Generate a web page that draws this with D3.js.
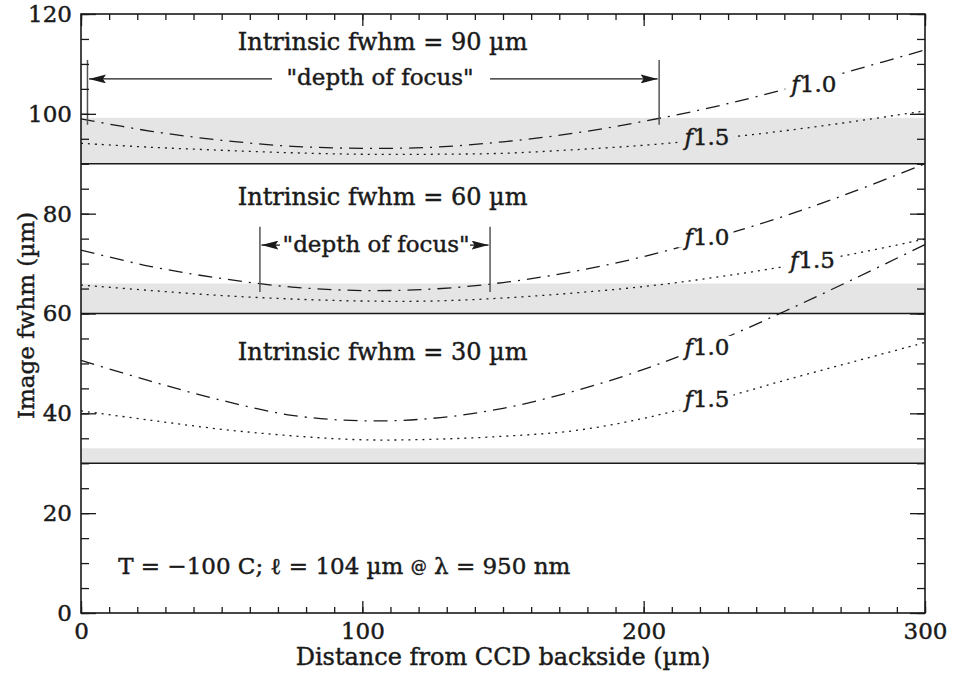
<!DOCTYPE html>
<html>
<head>
<meta charset="utf-8">
<script src="https://cdn.jsdelivr.net/npm/d3@7"></script>
<style>
    body { margin: 0; background: #fff; }
    svg text { font-family: "DejaVu Serif", serif; fill: #1a1a1a; stroke: #1a1a1a; stroke-width: 0.45px; }
</style>
</head>
<body>
<svg id="chart" width="953" height="679"></svg>
<script>
var distance = [0, 25, 50, 75, 100, 125, 150, 175, 200, 225, 250, 275, 300];

// intrinsic fwhm of each group and the top of its grey band (+10%)
var intrinsic = [90, 60, 30];
var bandTop = [99.2, 66, 33];

// image fwhm (um), f/1.0 and f/1.5 beams
var f10_90 = [99.0, 96.5, 94.7, 93.5, 93.1, 93.3, 94.4, 96.1, 98.5, 101.4, 104.9, 108.8, 112.8];
var f15_90 = [94.1, 93.3, 92.7, 92.2, 91.9, 91.9, 92.1, 92.8, 93.7, 95.0, 96.6, 98.5, 100.6];
var f10_60 = [72.7, 69.4, 67.0, 65.3, 64.6, 64.9, 66.2, 68.4, 71.4, 75.2, 79.5, 84.5, 90.0];
var f15_60 = [65.7, 64.6, 63.6, 62.9, 62.5, 62.5, 63.1, 64.1, 65.4, 67.2, 69.4, 72.0, 74.9];
var f10_30 = [50.6, 46.4, 42.6, 39.6, 38.5, 39.0, 41.0, 44.4, 48.8, 54.2, 60.4, 67.0, 73.8];
var f15_30 = [40.5, 38.6, 36.8, 35.5, 34.7, 34.8, 35.4, 36.5, 39.0, 42.6, 46.6, 50.4, 54.2];

var xTickLabels = [0, 100, 200, 300];
var yTickLabels = [0, 20, 40, 60, 80, 100, 120];

var MARGIN = {top: 14, right: 28, bottom: 66, left: 81};
var WIDTH = 953 - MARGIN.left - MARGIN.right;
var HEIGHT = 679 - MARGIN.top - MARGIN.bottom;
var INK = "#1a1a1a";

var series = [
    {values: f10_90, dash: "14,7,2,7", label: "1.0", lx: 260.5, ly: 104.4},
    {values: f15_90, dash: "2,5",      label: "1.5", lx: 222.5, ly: 93.8},
    {values: f10_60, dash: "14,7,2,7", label: "1.0", lx: 222.5, ly: 73.8},
    {values: f15_60, dash: "2,5",      label: "1.5", lx: 260.0, ly: 69.1},
    {values: f10_30, dash: "14,7,2,7", label: "1.0", lx: 222.5, ly: 51.7},
    {values: f15_30, dash: "2,5",      label: "1.5", lx: 222.5, ly: 41.3}
];

// where f/1.0 stays inside the band
var focus = [
    {lo: 2.3, hi: 205.5, top: 110.8, bottom: 97.8, arrowY: 107.0, tailL: 67.9, tailR: 145.4,
     tx: 106.3, ty: 105.7},
    {lo: 63.6, hi: 145.4, top: 77.4, bottom: 64.3, arrowY: 73.7, tailL: 70.7, tailR: 138.3,
     tx: 104.9, ty: 72.4}
];
var titleY = [112.8, 81.8, 50.7];

var svg = d3.select("#chart");
var defs = svg.append("defs");
var g = svg.append("g").attr("transform", "translate(" + MARGIN.left + "," + MARGIN.top + ")");

var x = d3.scaleLinear().domain([0, 300]).range([0, WIDTH]);
var y = d3.scaleLinear().domain([0, 120]).range([HEIGHT, 0]);

defs.append("marker")
    .attr("id", "head")
    .attr("viewBox", "0 0 17 9")
    .attr("refX", 17).attr("refY", 4.5)
    .attr("markerUnits", "userSpaceOnUse")
    .attr("markerWidth", 17).attr("markerHeight", 9)
    .attr("orient", "auto")
    .append("path").attr("d", "M0,0L17,4.5L0,9L3,4.5Z").attr("fill", INK);

var mask = defs.append("mask").attr("id", "labelMask").attr("maskUnits", "userSpaceOnUse");
mask.append("rect").attr("x", -10).attr("y", -10)
    .attr("width", WIDTH + 20).attr("height", HEIGHT + 20).attr("fill", "#fff");

drawBands();
drawCurves();
drawFocus();
drawTexts();
drawAxes();

function drawBands() {
    g.selectAll("rect.band")
        .data(intrinsic)
        .enter().append("rect")
        .attr("class", "band")
        .attr("x", 0)
        .attr("width", WIDTH)
        .attr("y", function (d, i) { return y(bandTop[i]); })
        .attr("height", function (d, i) { return y(d) - y(bandTop[i]); })
        .attr("fill", "#e5e5e5");

    g.selectAll("line.base")
        .data(intrinsic)
        .enter().append("line")
        .attr("class", "base")
        .attr("x1", 0).attr("x2", WIDTH)
        .attr("y1", function (d) { return y(d); })
        .attr("y2", function (d) { return y(d); })
        .attr("stroke", INK).attr("stroke-width", 1.6);
}

function drawCurves() {
    var line = d3.line()
        .x(function (d, i) { return x(distance[i]); })
        .y(function (d) { return y(d); })
        .curve(d3.curveCatmullRom.alpha(0.5));

    g.append("g")
        .attr("mask", "url(#labelMask)")
        .selectAll("path")
        .data(series)
        .enter().append("path")
        .attr("d", function (d) { return line(d.values); })
        .attr("fill", "none")
        .attr("stroke", INK)
        .attr("stroke-width", 1.3)
        .attr("stroke-dasharray", function (d) { return d.dash; });
}

function drawFocus() {
    focus.forEach(function (f) {
        [f.lo, f.hi].forEach(function (v) {
            g.append("line")
                .attr("x1", x(v)).attr("x2", x(v))
                .attr("y1", y(f.top)).attr("y2", y(f.bottom))
                .attr("stroke", "#555").attr("stroke-width", 1.5);
        });
        g.append("line")
            .attr("x1", x(f.tailL)).attr("x2", x(f.lo) + 1.5)
            .attr("y1", y(f.arrowY)).attr("y2", y(f.arrowY))
            .attr("stroke", INK).attr("stroke-width", 1.3)
            .attr("marker-end", "url(#head)");
        g.append("line")
            .attr("x1", x(f.tailR)).attr("x2", x(f.hi) - 1.5)
            .attr("y1", y(f.arrowY)).attr("y2", y(f.arrowY))
            .attr("stroke", INK).attr("stroke-width", 1.3)
            .attr("marker-end", "url(#head)");
        g.append("text")
            .attr("x", x(f.tx)).attr("y", y(f.ty))
            .attr("text-anchor", "middle")
            .attr("font-size", 23)
            .text("\"depth of focus\"");
    });
}

function drawTexts() {
    g.selectAll("text.title")
        .data(intrinsic)
        .enter().append("text")
        .attr("class", "title")
        .attr("x", x(107.2))
        .attr("y", function (d, i) { return y(titleY[i]); })
        .attr("text-anchor", "middle")
        .attr("font-size", 24)
        .text(function (d) { return "Intrinsic fwhm = " + d + " \u00b5m"; });

    var labels = g.selectAll("text.flabel")
        .data(series)
        .enter().append("text")
        .attr("class", "flabel")
        .attr("x", function (d) { return x(d.lx); })
        .attr("y", function (d) { return y(d.ly); })
        .attr("text-anchor", "middle")
        .attr("font-size", 23);
    labels.append("tspan").attr("font-style", "italic").text("f");
    labels.append("tspan").text(function (d) { return d.label; });

    // knock the curves out behind each label
    labels.each(function () {
        var b = this.getBBox();
        mask.append("rect")
            .attr("x", b.x - 4).attr("y", b.y + 2)
            .attr("width", b.width + 8).attr("height", b.height - 4)
            .attr("fill", "#000");
    });

    var note = g.append("text")
        .attr("x", x(13.2)).attr("y", y(7.8))
        .attr("font-size", 23);
    note.append("tspan").text("T = \u2212100 C;  \u2113 = 104 \u00b5m ");
    note.append("tspan").attr("font-size", 16).attr("dy", -2).text("@");
    note.append("tspan").attr("dy", 2).text(" \u03bb = 950 nm");
}

function drawAxes() {
    var majorY = d3.axisLeft(y).tickValues(yTickLabels).tickSize(-15).tickPadding(9);
    var minorY = d3.axisLeft(y).tickValues(d3.range(0, 121, 5)).tickSize(-8).tickFormat("");
    var majorX = d3.axisBottom(x).tickValues(xTickLabels).tickSize(-12).tickPadding(10);
    var minorX = d3.axisBottom(x).tickValues(d3.range(0, 301, 10)).tickSize(-6).tickFormat("");

    g.append("g").call(minorY);
    g.append("g").call(majorY);
    g.append("g").attr("transform", "translate(" + WIDTH + ",0)")
        .call(d3.axisRight(y).tickValues(d3.range(0, 121, 5)).tickSize(-8).tickFormat(""));
    g.append("g").attr("transform", "translate(" + WIDTH + ",0)")
        .call(d3.axisRight(y).tickValues(yTickLabels).tickSize(-15).tickFormat(""));
    g.append("g").attr("transform", "translate(0," + HEIGHT + ")").call(minorX);
    g.append("g").attr("transform", "translate(0," + HEIGHT + ")").call(majorX);
    g.append("g").call(d3.axisTop(x).tickValues(d3.range(0, 301, 10)).tickSize(-6).tickFormat(""));
    g.append("g").call(d3.axisTop(x).tickValues(xTickLabels).tickSize(-12).tickFormat(""));

    g.selectAll(".domain").remove();
    g.selectAll(".tick line").attr("stroke", INK).attr("stroke-width", 1.3);
    g.selectAll(".tick text")
        .attr("font-family", "DejaVu Serif, serif")
        .attr("font-size", 23)
        .attr("fill", INK)
        .attr("stroke", INK)
        .attr("stroke-width", 0.7);

    g.append("rect")
        .attr("width", WIDTH).attr("height", HEIGHT)
        .attr("fill", "none").attr("stroke", INK).attr("stroke-width", 1.6);

    g.append("text")
        .attr("x", WIDTH / 2).attr("y", HEIGHT + 52)
        .attr("text-anchor", "middle")
        .attr("font-size", 24)
        .text("Distance from CCD backside (\u00b5m)");

    g.append("text")
        .attr("transform", "translate(-47," + (y(59.6)) + ") rotate(-90)")
        .attr("text-anchor", "middle")
        .attr("font-size", 23)
        .text("Image fwhm (\u00b5m)");
}
</script>
</body>
</html>
